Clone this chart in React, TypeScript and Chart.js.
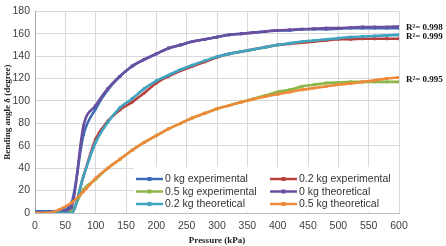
import { useEffect, useRef } from "react";
import { Chart, registerables } from "chart.js";

Chart.register(...registerables);

// Pressure steps (kPa)
const pressure = [
  0, 20, 40, 60, 80, 100, 120, 140, 160, 180, 200, 220, 240, 260, 280, 300,
  320, 340, 360, 380, 400, 420, 440, 460, 480, 500, 520, 540, 560, 580, 600,
];

// Bending angle (degree) per load
const exp0kg = [
  1.5, 1.5, 2, 9, 70, 93, 110, 122, 131, 137, 142, 147, 150, 153, 155, 157,
  159, 160, 161, 162, 163, 163, 164, 164, 164, 164.5, 165, 165, 165, 165, 165,
];
const exp02kg = [
  0, 0, 0, 0, 33, 66, 82, 92, 99, 107, 116, 122, 127, 131, 135, 139,
  142, 144, 146, 148, 150, 151, 152, 153, 154, 155, 155, 155.5, 155.5, 155.5, 155.5,
];
const exp05kg = [
  0, 0, 0, 2, 21, 30, 40, 48, 56, 63, 69, 75, 80, 85, 89, 93,
  96, 99, 102, 105, 108, 110, 113, 114.5, 116, 116.5, 117, 117, 117, 117, 117,
];
const theo0kg = [
  0.5, 0.5, 1, 5, 78, 96, 111, 122, 131, 137, 142, 147, 150, 153, 155, 157,
  159, 160, 161, 162, 163, 163.5, 164, 164.5, 165, 165, 165.5, 166, 166, 166, 166.5,
];
const theo02kg = [
  0, 0, 0, 0, 33, 63, 81, 94, 102, 111, 118, 123, 128, 132, 136, 139.5,
  142, 144, 146, 148, 150, 151.5, 153, 154, 155, 156, 157, 157.5, 158, 158.5, 159,
];
const theo05kg = [
  0, 0, 3, 9, 19, 31, 40, 48, 56, 63, 69, 75, 80, 85, 89, 93,
  96, 99, 101.5, 104, 106, 108, 110, 111.5, 113, 114.5, 115.5, 117, 118.5, 120, 121,
];

const seriesNames = [
  "0 kg experimental",
  "0.2 kg experimental",
  "0.5 kg experimental",
  "0 kg theoretical",
  "0.2 kg theoretical",
  "0.5 kg theoretical",
];
const seriesValues = [exp0kg, exp02kg, exp05kg, theo0kg, theo02kg, theo05kg];
const seriesColors = ["#3D6CB5", "#B8413E", "#8DB548", "#6A4FA0", "#3FA4C0", "#EE8A3A"];

// Goodness-of-fit notes, each tied to an experimental/theoretical pair
const fitLabels = ["R²= 0.998", "R²= 0.999", "R²= 0.995"];
const fitPairs = [
  [0, 3],
  [1, 4],
  [2, 5],
];

const tickFont = { family: "'Liberation Sans', Arial, sans-serif", size: 10.5 };
const titleFont = { family: "'Liberation Serif', 'Times New Roman', serif", size: 9, weight: "bold" as const };

// Legend box drawn inside the plot, bottom-right, in two columns
const legendPlugin = {
  id: "insideLegend",
  afterDatasetsDraw(chart: Chart) {
    const { ctx, chartArea } = chart;
    const w = 265;
    const h = 46;
    const x0 = chartArea.right - w;
    const y0 = chartArea.bottom - h;
    ctx.save();
    ctx.fillStyle = "#ffffff";
    ctx.fillRect(x0, y0, w, h - 1);
    ctx.font = `${tickFont.size}px ${tickFont.family}`;
    ctx.textBaseline = "middle";
    ctx.textAlign = "left";
    const rows = [y0 + 12, y0 + 24.5, y0 + 37];
    const cols = [x0 + 2, x0 + 136];
    seriesNames.forEach((name, i) => {
      const cx = cols[i % 2];
      const cy = rows[Math.floor(i / 2)];
      ctx.strokeStyle = seriesColors[i];
      ctx.lineWidth = 2.5;
      ctx.beginPath();
      ctx.moveTo(cx, cy);
      ctx.lineTo(cx + 27, cy);
      ctx.stroke();
      ctx.fillStyle = seriesColors[i];
      ctx.fillRect(cx + 11.5, cy - 2, 4, 4);
      ctx.fillStyle = "#333333";
      ctx.fillText(name, cx + 29, cy + 0.5);
    });
    ctx.restore();
  },
};

// R² notes to the right of the plot, level with the curve ends
const fitPlugin = {
  id: "fitNotes",
  afterDraw(chart: Chart) {
    const { ctx, chartArea } = chart;
    const y = chart.scales.y;
    ctx.save();
    ctx.font = `bold 9px ${titleFont.family}`;
    ctx.fillStyle = "#111111";
    ctx.textBaseline = "middle";
    ctx.textAlign = "left";
    fitPairs.forEach(([a, b], i) => {
      const last = pressure.length - 1;
      const v = (seriesValues[a][last] + seriesValues[b][last]) / 2;
      ctx.fillText(fitLabels[i], chartArea.right + 7, y.getPixelForValue(v));
    });
    ctx.restore();
  },
};

export default function App() {
  const canvasRef = useRef<HTMLCanvasElement | null>(null);

  useEffect(() => {
    const canvas = canvasRef.current;
    if (!canvas) return;
    const chart = new Chart(canvas, {
      type: "line",
      data: {
        datasets: seriesValues.map((vals, i) => ({
          label: seriesNames[i],
          data: pressure.map((p, k) => ({ x: p, y: vals[k] })),
          borderColor: seriesColors[i],
          backgroundColor: seriesColors[i],
          borderWidth: 2.6,
          pointRadius: 2,
          pointStyle: "rect",
          pointBorderWidth: 0,
          cubicInterpolationMode: "monotone" as const,
          order: seriesValues.length - i,
        })),
      },
      options: {
        responsive: false,
        animation: false,
        events: [],
        layout: { padding: { top: 4, right: 47, left: 0, bottom: 0 } },
        plugins: {
          legend: { display: false },
          tooltip: { enabled: false },
        },
        scales: {
          x: {
            type: "linear",
            min: 0,
            max: 600,
            ticks: { stepSize: 50, font: tickFont, color: "#404040", padding: 7, maxRotation: 0 },
            grid: { color: "#d9d9d9", drawTicks: false },
            border: { color: "#bfbfbf" },
            title: { display: true, text: "Pressure (kPa)", font: titleFont, color: "#222222", padding: 0 },
            afterFit: (s: any) => {
              s.height = 33;
            },
          },
          y: {
            min: 0,
            max: 180,
            ticks: { stepSize: 20, font: tickFont, color: "#404040", padding: 5 },
            grid: { color: "#d9d9d9", drawTicks: false },
            border: { color: "#a6a6a6" },
            title: { display: true, text: "Bending angle δ (degree)", font: titleFont, color: "#222222", padding: { top: 2 } },
            afterFit: (s: any) => {
              s.width = 35;
            },
          },
        },
      },
      plugins: [legendPlugin, fitPlugin],
    });
    return () => chart.destroy();
  }, []);

  return (
    <div style={{ position: "absolute", left: 0, top: 0, width: 446, height: 246, background: "#ffffff" }}>
      <canvas ref={canvasRef} width={446} height={246} style={{ display: "block", width: 446, height: 246 }} />
    </div>
  );
}
